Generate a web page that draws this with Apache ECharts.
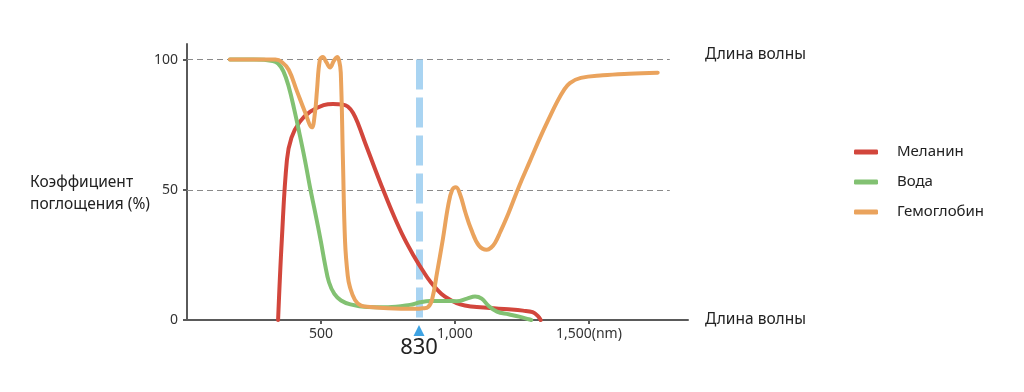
<!DOCTYPE html>
<html><head><meta charset="utf-8">
<script src="https://cdn.jsdelivr.net/npm/echarts@6/dist/echarts.min.js"></script>
<style>html,body{margin:0;padding:0;background:#fff}#c{width:1024px;height:392px}</style>
</head><body><div id="c"></div>
<script>
// ---- data ----
const seriesNames = ['Меланин', 'Вода', 'Гемоглобин'];
const melaninNm  = [340, 354, 373, 390, 420, 460, 510, 545, 580, 600, 620, 640, 665, 700, 731, 770, 810, 850, 880, 910, 950, 985, 1020, 1060, 1130, 1200, 1254, 1290, 1310, 1320];
const melaninVal = [0, 31, 61.5, 70, 76, 80, 82.5, 83, 82.8, 82, 79.5, 75, 68, 58.5, 50.3, 40.5, 31.5, 24, 19, 14.5, 10, 7.6, 6, 5.2, 4.6, 4.1, 3.6, 3, 1.5, 0];
const waterNm  = [160, 250, 320, 340, 360, 380, 400, 420, 440, 460, 480, 500, 515, 530, 550, 575, 610, 672, 750, 832, 870, 907, 960, 1007, 1045, 1075, 1100, 1125, 1157, 1200, 1240, 1275, 1285];
const waterVal = [100, 100, 99.5, 98.5, 95.5, 89.5, 81, 71.5, 61.5, 50.5, 40.5, 30, 21.5, 14.5, 10, 7.5, 6, 5, 4.9, 5.8, 6.8, 7.3, 7.3, 7.2, 8.2, 9, 8.2, 5.5, 3.2, 2.2, 1.3, 0.3, 0];
const hemoNm  = [160, 250, 330, 355, 380, 410, 440, 466, 478, 485, 496, 507, 520, 534, 548, 560, 568, 574, 582, 590, 600, 608, 627, 650, 683, 750, 850, 880, 900, 915, 933, 955, 975, 990, 1004, 1020, 1040, 1060, 1090, 1119, 1135, 1150, 1168, 1200, 1240, 1280, 1320, 1354, 1380, 1405, 1429, 1470, 1552, 1650, 1757];
const hemoVal = [100, 100, 100, 99, 96, 88, 80, 74, 80, 88, 100, 101, 99, 97, 99.5, 101, 99.5, 95, 61.5, 30, 17, 12.7, 7.7, 5.5, 5, 4.5, 4.3, 4.5, 5, 8, 18, 31, 44, 50, 51, 48, 41, 35, 28.5, 27, 27.8, 29.7, 33.5, 41, 51.5, 61, 70.5, 78, 83.5, 88, 91, 93, 94, 94.6, 95];
const xTickValues = [500, 1000, 1500];
const xTickLabels = ['500', '1,000', '1,500(nm)'];
const yTickValues = [0, 50, 100];
const yTickLabels = ['0', '50', '100'];
const gridLineValues = [50, 100];
const markerNm = 866;
const markerLabel = '830';
const yAxisTitle = 'Коэффициент\nпоглощения (%)';
const xAxisTitle = 'Длина волны';

const colors = ['#d2463c', '#82c172', '#eaa35d'];
const pairs = (xs, ys) => xs.map((x, i) => [x, ys[i]]);

const chart = echarts.init(document.getElementById('c'), null, {renderer: 'canvas'});
const font = '"Noto Sans", "Open Sans", sans-serif';
const lineSeries = (name, xs, ys, color) => ({
  name, type: 'line', data: pairs(xs, ys), smooth: 0.4, showSymbol: false, symbol: 'none',
  lineStyle: {color, width: 4, cap: 'round', join: 'round'}, itemStyle: {color}, z: 3
});

chart.setOption({
  animation: false,
  textStyle: {fontFamily: font},
  grid: {left: 187, right: 336, top: 44, bottom: 72},
  xAxis: {
    type: 'value', min: 0, max: 1870,
    axisLine: {lineStyle: {color: '#5a5a5a', width: 2}},
    axisTick: {customValues: xTickValues, length: 4, lineStyle: {color: '#5a5a5a', width: 2}},
    axisLabel: {customValues: xTickValues, formatter: v => xTickLabels[xTickValues.indexOf(v)] || '',
      color: '#333', fontSize: 14, margin: 7, fontFamily: font},
    splitLine: {show: false}
  },
  yAxis: {
    type: 'value', min: 0, max: 106,
    axisLine: {show: true, lineStyle: {color: '#5a5a5a', width: 2}},
    axisTick: {show: true, customValues: yTickValues, length: 4, lineStyle: {color: '#5a5a5a', width: 2}},
    axisLabel: {customValues: yTickValues, formatter: v => yTickLabels[yTickValues.indexOf(v)] || '',
      color: '#333', fontSize: 14, margin: 9, fontFamily: font},
    splitLine: {show: false}
  },
  legend: {
    orient: 'vertical', left: 849, top: 137, itemWidth: 24, itemHeight: 5, itemGap: 10,
    icon: 'roundRect', data: seriesNames,
    textStyle: {fontSize: 15, color: '#222', lineHeight: 20, padding: [0, 0, 0, 14], fontFamily: font}
  },
  series: [
    {
      name: 'guides', type: 'line', data: [], z: 1,
      markLine: {
        silent: true, symbol: 'none', z: 1, label: {show: false},
        data: gridLineValues.map(v => [
          {coord: [0, v], lineStyle: {color: '#8a8a8a', width: 1, type: [6, 4]}},
          {coord: [1802, v]}
        ]).concat([[
          {coord: [markerNm, 100], lineStyle: {color: '#a9d4f2', width: 7, type: [30, 8]}},
          {coord: [markerNm, 0]}
        ]])
      }
    },
    lineSeries(seriesNames[0], melaninNm, melaninVal, colors[0]),
    lineSeries(seriesNames[1], waterNm, waterVal, colors[1]),
    lineSeries(seriesNames[2], hemoNm, hemoVal, colors[2])
  ]
});

const mx = chart.convertToPixel({xAxisIndex: 0}, markerNm);
const y0 = chart.convertToPixel({yAxisIndex: 0}, 0);
const y100 = chart.convertToPixel({yAxisIndex: 0}, 100);
const xEnd = chart.convertToPixel({xAxisIndex: 0}, 1870);
chart.setOption({
  graphic: [
    {type: 'polygon', shape: {points: [[mx, y0 + 5], [mx - 5.5, y0 + 16], [mx + 5.5, y0 + 16]]}, style: {fill: '#3fa3e3'}},
    {type: 'text', x: mx, y: y0 + 17, style: {text: markerLabel, fontSize: 22, fill: '#222', align: 'center', verticalAlign: 'top', fontFamily: font}},
    {type: 'text', x: 30, y: 194, style: {text: yAxisTitle, fontSize: 15.5, fill: '#222', lineHeight: 22, verticalAlign: 'middle', fontFamily: font}},
    {type: 'text', x: xEnd + 17, y: y100 - 5, style: {text: xAxisTitle, fontSize: 15.5, fill: '#222', verticalAlign: 'middle', fontFamily: font}},
    {type: 'text', x: xEnd + 17, y: y0, style: {text: xAxisTitle, fontSize: 15.5, fill: '#222', verticalAlign: 'middle', fontFamily: font}}
  ]
});
</script></body></html>
